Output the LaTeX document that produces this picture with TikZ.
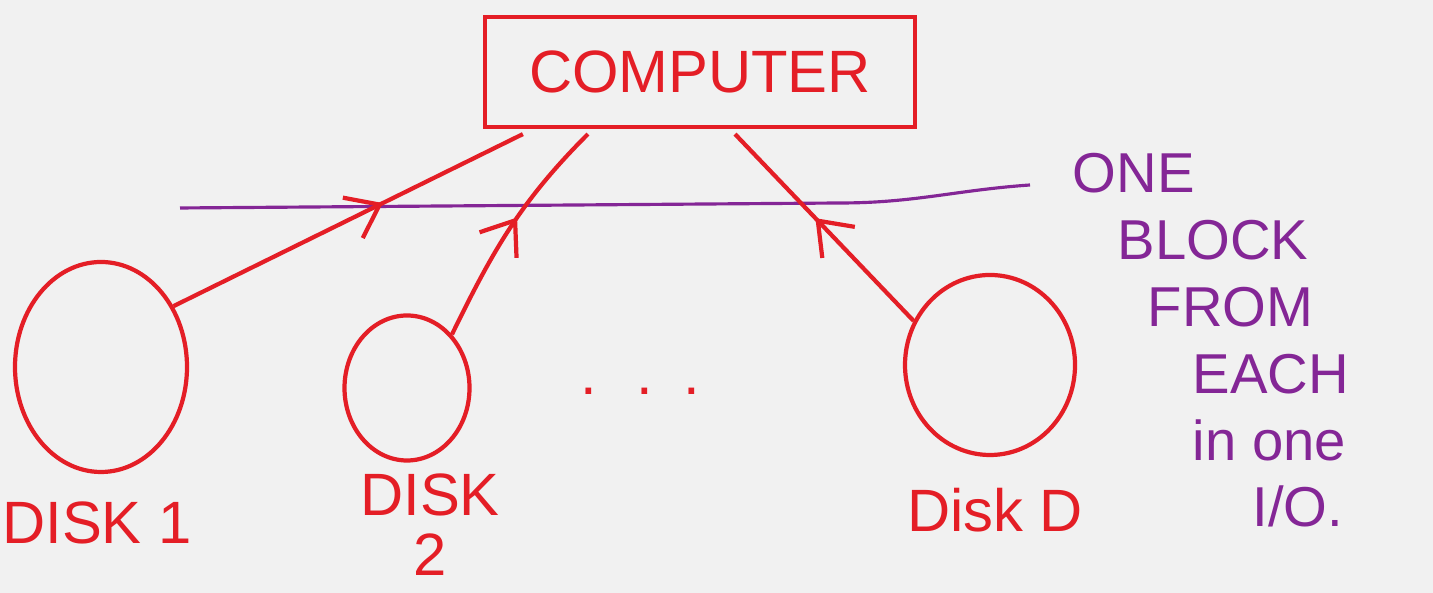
\documentclass[tikz,border=0pt]{standalone}
\usepackage{fontspec}
\setsansfont{Liberation Sans}
\usepackage{xcolor}
\usepackage{tikz}
\usetikzlibrary{shapes.geometric,arrows.meta,decorations.markings}

\definecolor{penred}{RGB}{228,30,38}
\definecolor{penpurple}{RGB}{132,38,150}
\definecolor{board}{RGB}{241,241,241}

\tikzset{
  disk/.style={draw=penred,ellipse,line width=1.2pt,inner sep=0pt},
  redtext/.style={text=penred,font=\sffamily\fontsize{17}{17}\selectfont,align=center},
  midarrow/.style={postaction={decorate},
    decoration={markings,mark=at position #1 with {\arrow{>}}}}
}

\begin{document}
\begin{tikzpicture}[>={Straight Barb[length=3mm,width=4.5mm]}]
  \fill[board] (0,0) rectangle (14.33,5.93);
  \useasboundingbox (0,0) rectangle (14.33,5.93);

  \node[draw=penred,line width=1.2pt,minimum width=4.3cm,minimum height=1.1cm,
    redtext] (comp) at (7.0,5.21) {COMPUTER};

  \node[disk,minimum width=1.72cm,minimum height=2.1cm] (disk1) at (1.01,2.26) {};
  \node[disk,minimum width=1.25cm,minimum height=1.45cm] (disk2) at (4.07,2.05) {};
  \node[disk,minimum width=1.7cm,minimum height=1.8cm] (diskD) at (9.9,2.28) {};

  \node[redtext] (lbl1) at (0.97,0.7) {DISK 1};
  \node[redtext] (lbl2) at (4.3,0.68) {DISK\\2};
  \node[redtext] (lblD) at (9.95,0.83) {Disk D};
  \node[redtext] (dots) at (6.4,2.02) {.\hspace{4mm}.\hspace{3mm}.};

  % one block from each disk
  \coordinate (cutL) at (1.8,3.85);
  \coordinate (cutR) at (10.3,4.08);
  \draw[penpurple,line width=0.9pt] (cutL) -- (8.4,3.9)
    to[out=0,in=184] (cutR);
  \node[anchor=north west,inner sep=0pt,text=penpurple,align=left,
    font=\sffamily\fontsize{16}{19}\selectfont] (note) at (10.72,4.4)
    {ONE\\ \hspace*{4.5mm}BLOCK\\ \hspace*{7.5mm}FROM\\
     \hspace*{12mm}EACH\\ \hspace*{12mm}in one\\ \hspace*{18mm}I/O.};

  \draw[penred,line width=1.2pt,midarrow=0.6] (disk1.40)
    -- ([xshift=4mm,yshift=-0.5mm]comp.south west);
  \draw[penred,line width=1.2pt,midarrow=0.55] (disk2.50)
    to[out=64,in=225] ([xshift=10.5mm,yshift=-0.5mm]comp.south west);
  \draw[penred,line width=1.2pt,midarrow=0.55] (diskD.150)
    -- ([xshift=3.5mm,yshift=-0.5mm]comp.south);
\end{tikzpicture}
\end{document}
